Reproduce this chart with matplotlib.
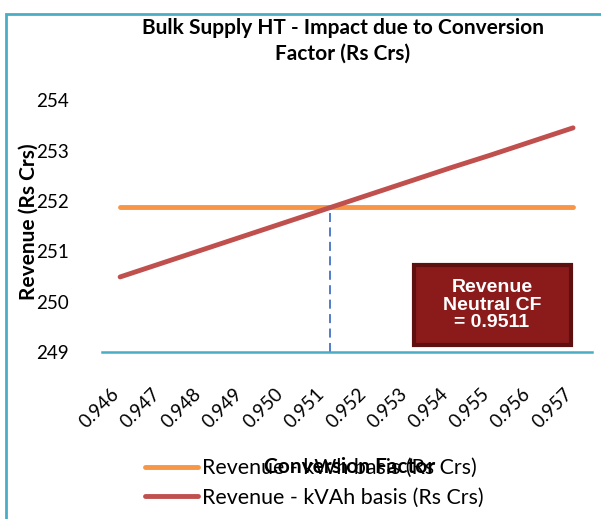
import matplotlib.pyplot as plt
import matplotlib.transforms as mtransforms
from matplotlib.patches import Rectangle

# Datos
factores = ['0.946', '0.947', '0.948', '0.949', '0.950', '0.951',
            '0.952', '0.953', '0.954', '0.955', '0.956', '0.957']
ingreso_kwh = [251.87] * 12
ingreso_kvah = [250.49, 250.76, 251.03, 251.30, 251.57, 251.84,
                252.11, 252.38, 252.65, 252.91, 253.18, 253.45]
cf_neutral = 0.9511
y_ticks = [249, 250, 251, 252, 253, 254]

fig = plt.figure(figsize=(6.01, 5.19), dpi=100)
ax = fig.add_axes([102 / 601, 1 - 352 / 519, 490 / 601, 272 / 519])

x = list(range(len(factores)))
l1, = ax.plot(x, ingreso_kwh, color='#F79646', lw=3.5, solid_capstyle='round')
l2, = ax.plot(x, ingreso_kvah, color='#C0504D', lw=3.5, solid_capstyle='round')

# linea punteada en el punto neutral
xi = (cf_neutral - float(factores[0])) / 0.001
ax.plot([xi, xi], [249, ingreso_kwh[0]], color='#4472C4', lw=1.3, ls=(0, (5, 3)))

ax.set_xlim(-0.44, 11.46)
ax.set_ylim(249, 254.4)
ax.set_yticks(y_ticks)
ax.set_xticks(x)
ax.set_xticklabels(factores, rotation=45, ha='right', rotation_mode='anchor',
                   fontsize=13.5, family='Lato')
for lab in ax.get_yticklabels():
    lab.set_fontsize(13.5)
    lab.set_family('Lato')
ax.tick_params(length=0)
ax.tick_params(axis='y', pad=24)
ax.tick_params(axis='x', pad=24)
desplazar = mtransforms.ScaledTranslation(-10 / 100, 0, fig.dpi_scale_trans)
for lab in ax.get_xticklabels():
    lab.set_transform(lab.get_transform() + desplazar)
for s in ['top', 'right', 'left']:
    ax.spines[s].set_visible(False)
ax.spines['bottom'].set_color('#4BACC6')
ax.spines['bottom'].set_linewidth(1.8)

fig.text(343 / 601, 1 - 41 / 519, 'Bulk Supply HT - Impact due to Conversion\nFactor (Rs Crs)',
         ha='center', va='center', fontsize=15, fontweight='bold', family='Lato',
         linespacing=1.35)
fig.text(29 / 601, 1 - 222 / 519, 'Revenue (Rs Crs)', rotation=90, ha='center', va='center',
         fontsize=15, fontweight='bold', family='Lato')
fig.text(350 / 601, 1 - 467 / 519, 'Conversion Factor', ha='center', va='center',
         fontsize=15, fontweight='bold', family='Lato')

fig.legend([l1, l2], ['Revenue - kWh basis (Rs Crs)', 'Revenue - kVAh basis (Rs Crs)'],
           loc='center left', bbox_to_anchor=(145 / 601, 1 - 483 / 519), frameon=False,
           prop={'family': 'Lato', 'size': 15.4}, handlelength=2.5, handletextpad=0.15,
           labelspacing=0.45, borderpad=0, borderaxespad=0)

# cuadro de anotacion
fig.patches.append(Rectangle((414 / 601, 1 - 345 / 519), 157 / 601, 80 / 519,
                             transform=fig.transFigure, facecolor='#8B1A1A',
                             edgecolor='#5E1010', lw=3))
fig.text(492 / 601, 1 - 305 / 519, 'Revenue\nNeutral CF\n= 0.9511', ha='center',
         va='center', color='white', fontsize=14, fontweight='bold',
         family='Liberation Sans', linespacing=1.05)

# borde del grafico
fig.patches.append(Rectangle((6 / 601, -0.1), 1.2, 1 - 14 / 519 + 0.1,
                             transform=fig.transFigure, facecolor='none',
                             edgecolor='#4BACC6', lw=2))

fig.savefig('out.png', dpi=100)
